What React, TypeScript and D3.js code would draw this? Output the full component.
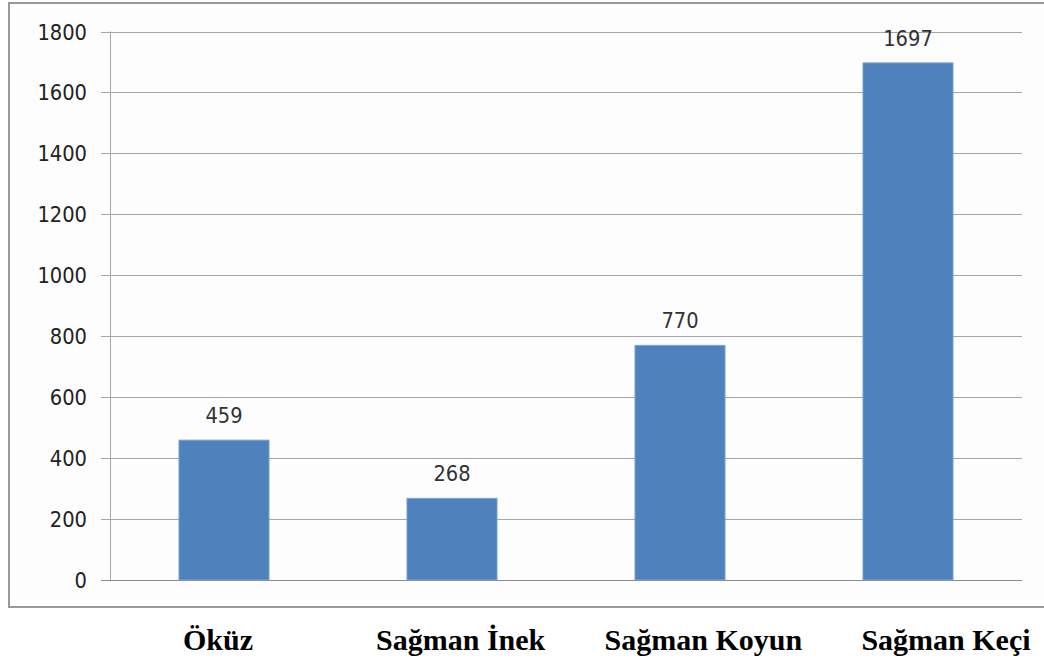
import React from "react";
import * as d3 from "d3";

const categories = ["Öküz", "Sağman İnek", "Sağman Koyun", "Sağman Keçi"];
const values = [459, 268, 770, 1697];
const yTicks = [0, 200, 400, 600, 800, 1000, 1200, 1400, 1600, 1800];

const W = 1044;
const H = 663;
const plot = { left: 110, right: 1022, top: 31.5, bottom: 580 };

function Num({ x, y, anchor, children, fill }: any) {
  return (
    <text
      transform={`translate(${x},${y}) scale(1,1.12)`}
      textAnchor={anchor}
      fontFamily="DejaVu Sans"
      fontSize={19.5}
      fill={fill}
    >
      {children}
    </text>
  );
}

export default function App() {
  const x = d3
    .scaleBand<string>()
    .domain(categories)
    .range([plot.left, plot.right])
    .paddingInner(0.605)
    .paddingOuter(0.3025);
  const y = d3.scaleLinear().domain([0, 1800]).range([plot.bottom, plot.top]);
  const labelX = d3.scalePoint<string>().domain(categories).range([218, 946]);

  return (
    <svg
      width={W}
      height={H}
      style={{ position: "absolute", left: 0, top: 0, background: "#fff" }}
    >
      <rect x={9} y={3} width={1050} height={604} fill="#fdfdfd" stroke="#999" strokeWidth={2} />
      {yTicks.map((t) => (
        <g key={t}>
          <line
            x1={101}
            x2={plot.right}
            y1={Math.round(y(t)) + 0.5}
            y2={Math.round(y(t)) + 0.5}
            stroke={t === 0 ? "#8c8c8c" : "#a6a6a6"}
            strokeWidth={1}
          />
          <Num x={87} y={y(t) + 8} anchor="end" fill="#222">
            {t}
          </Num>
        </g>
      ))}
      <line
        x1={plot.left + 0.5}
        x2={plot.left + 0.5}
        y1={plot.top}
        y2={plot.bottom}
        stroke="#a6a6a6"
      />
      {categories.map((c, i) => (
        <g key={c}>
          <rect
            x={x(c)!}
            y={y(values[i])}
            width={x.bandwidth()}
            height={y(0) - y(values[i])}
            fill="#4F81BD"
            stroke="#7ea4d4"
            strokeWidth={1}
          />
          <Num x={x(c)! + x.bandwidth() / 2} y={y(values[i]) - 17} anchor="middle" fill="#333">
            {values[i]}
          </Num>
          <text
            x={labelX(c)!}
            y={650}
            textAnchor="middle"
            fontFamily="Liberation Serif"
            fontWeight="bold"
            fontSize={30}
            fill="#000"
          >
            {c}
          </text>
        </g>
      ))}
    </svg>
  );
}
